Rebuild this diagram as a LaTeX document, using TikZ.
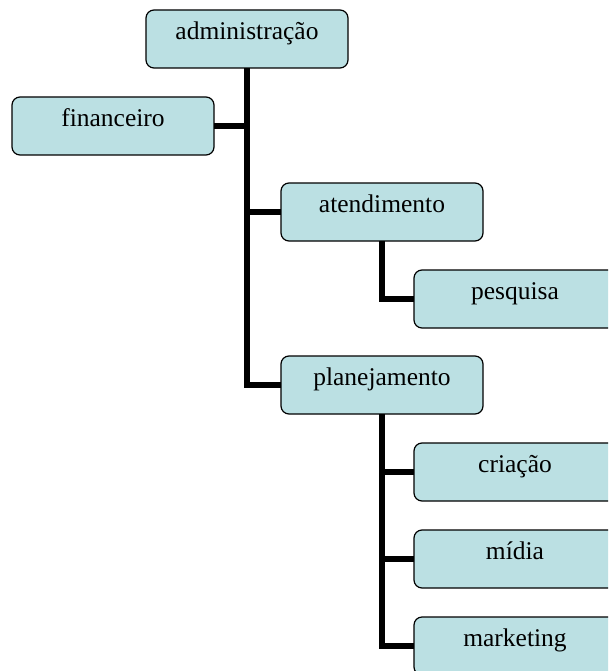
\documentclass[tikz,border=0pt]{standalone}
\usepackage{fontspec}
\setmainfont{Liberation Serif}
\definecolor{boxfill}{RGB}{187,224,227}
\begin{document}
\begin{tikzpicture}[x=1pt,y=-1pt,
  box/.style={draw=black, line width=1.2pt, fill=boxfill, rounded corners=8pt,
    minimum width=202pt, inner sep=0pt, outer sep=0pt,
    text height=29.5pt, text depth=28.5pt, anchor=north west,
    font=\fontsize{25.5}{30}\selectfont},
  conn/.style={draw=black, line width=6.5pt, line join=miter}]
\clip (0,0) rectangle (608,671);
\node[box] (adm) at (146,10) {administração};
\node[box] (fin) at (12,97) {financeiro};
\node[box] (atd) at (281,183) {atendimento};
\node[box] (pes) at (414,270) {pesquisa};
\node[box] (plj) at (281,356) {planejamento};
\node[box] (cri) at (414,443) {criação};
\node[box] (mid) at (414,530) {mídia};
\node[box] (mkt) at (414,617) {marketing};
\draw[conn] (adm.south) -- (adm.south |- plj.west) -- (plj.west);
\draw[conn] (fin.east) -- (fin.east -| adm.south);
\draw[conn] (adm.south |- atd.west) -- (atd.west);
\draw[conn] (atd.south) -- (atd.south |- pes.west) -- (pes.west);
\draw[conn] (plj.south) -- (plj.south |- mkt.west) -- (mkt.west);
\draw[conn] (plj.south |- cri.west) -- (cri.west);
\draw[conn] (plj.south |- mid.west) -- (mid.west);
\end{tikzpicture}
\end{document}
